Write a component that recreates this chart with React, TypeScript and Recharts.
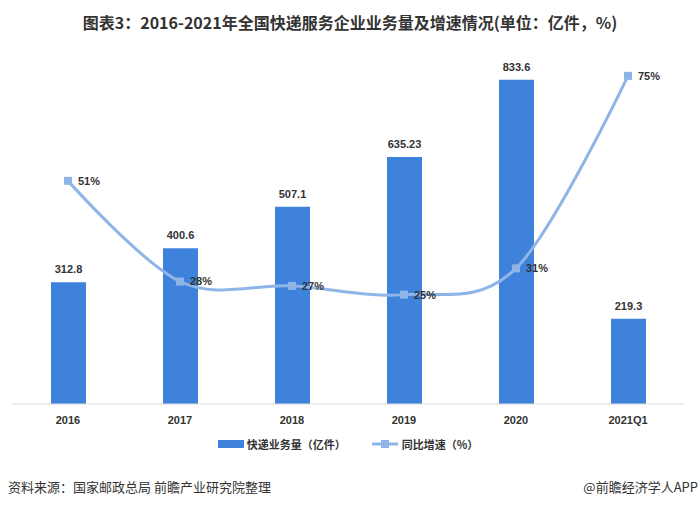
import React from "react";
import { ComposedChart, Bar, Line, XAxis, YAxis, LabelList, Legend } from "recharts";

const categories = ["2016", "2017", "2018", "2019", "2020", "2021Q1"];
const volume = [312.8, 400.6, 507.1, 635.23, 833.6, 219.3];
const growth = [51, 28, 27, 25, 31, 75];

const data = categories.map((c, i) => ({ name: c, volume: volume[i], growth: growth[i] }));

const BAR_COLOR = "#3f82dc";
const LINE_COLOR = "#8fb5e8";
const FONT = "'Liberation Sans', 'Noto Sans CJK SC', sans-serif";
const CJK = "'Noto Sans CJK SC', 'Liberation Sans', sans-serif";

// Catmull-Rom style smoothing (like a spreadsheet smoothed line)
function smoothCurve(context: any) {
  const k = 1 / 6;
  let x0 = NaN, x1 = NaN, x2 = NaN, y0 = NaN, y1 = NaN, y2 = NaN;
  let pt = 0;
  let line: number = NaN;
  const seg = (x: number, y: number) => {
    context.bezierCurveTo(
      x1 + k * (x2 - x0),
      y1 + k * (y2 - y0),
      x2 + k * (x1 - x),
      y2 + k * (y1 - y),
      x2,
      y2
    );
  };
  return {
    areaStart() { line = 0; },
    areaEnd() { line = NaN; },
    lineStart() { x0 = x1 = x2 = y0 = y1 = y2 = NaN; pt = 0; },
    lineEnd() {
      if (pt === 2) context.lineTo(x2, y2);
      else if (pt === 3) seg(x1, y1);
      if (line || (line !== 0 && pt === 1)) context.closePath();
      line = 1 - line;
    },
    point(x: number, y: number) {
      x = +x; y = +y;
      switch (pt) {
        case 0: pt = 1; line ? context.lineTo(x, y) : context.moveTo(x, y); break;
        case 1: pt = 2; x1 = x; y1 = y; break;
        case 2: pt = 3; seg(x, y); break;
        default: seg(x, y); break;
      }
      x0 = x1; x1 = x2; x2 = x;
      y0 = y1; y1 = y2; y2 = y;
    },
  };
}

const SquareDot = (props: any) => {
  const { cx, cy } = props;
  if (cx == null || cy == null) return null;
  return <rect x={cx - 4} y={cy - 4} width={8} height={8} fill={LINE_COLOR} />;
};

const LegendContent = () => (
  <div style={{ display: "flex", justifyContent: "center", alignItems: "center", height: 20, fontFamily: CJK, fontSize: 11, fontWeight: 700, color: "#333" }}>
    <svg width={27} height={10} style={{ marginRight: 2 }}>
      <rect x={0} y={1} width={26} height={8} fill={BAR_COLOR} />
    </svg>
    <span>快递业务量（亿件）</span>
    <svg width={28} height={10} style={{ marginLeft: 26, marginRight: 2 }}>
      <line x1={0} y1={5} x2={26} y2={5} stroke={LINE_COLOR} strokeWidth={3} />
      <rect x={9} y={1} width={8} height={8} fill={LINE_COLOR} />
    </svg>
    <span>同比增速（%）</span>
  </div>
);

export default function App() {
  return (
    <div style={{ position: "absolute", left: 0, top: 0, width: 700, height: 507, background: "#fff", overflow: "hidden" }}>
      <div style={{ position: "absolute", top: 11, left: 0, width: 700, textAlign: "center", fontFamily: CJK, fontWeight: 700, fontSize: 16, color: "#333", lineHeight: "22px" }}>
        图表3：2016-2021年全国快递服务企业业务量及增速情况(单位：亿件，%)
      </div>
      <div style={{ position: "absolute", top: 0, left: 0 }}>
        <ComposedChart width={700} height={460} data={data} margin={{ top: 54, right: 16, left: 12, bottom: 6 }}>
          <XAxis
            dataKey="name"
            axisLine={{ stroke: "#d9d9d9" }}
            tickLine={false}
            height={30}
            tick={{ fill: "#333", fontSize: 11, fontWeight: 700, fontFamily: FONT }}
            tickMargin={6}
          />
          <YAxis yAxisId="left" hide domain={[0, 900]} />
          <YAxis yAxisId="right" orientation="right" hide domain={[0, 80]} />
          <Legend verticalAlign="bottom" height={20} content={<LegendContent />} />
          <Bar yAxisId="left" dataKey="volume" name="快递业务量（亿件）" fill={BAR_COLOR} barSize={35} isAnimationActive={false}>
            <LabelList dataKey="volume" position="top" offset={9} style={{ fill: "#333", fontSize: 11, fontWeight: 700, fontFamily: FONT }} />
          </Bar>
          <Line
            yAxisId="right"
            dataKey="growth"
            name="同比增速（%）"
            type={smoothCurve as any}
            stroke={LINE_COLOR}
            strokeWidth={3}
            dot={<SquareDot />}
            activeDot={false}
            isAnimationActive={false}
          >
            <LabelList dataKey="growth" position="right" offset={10} formatter={(v: any) => `${v}%`} style={{ fill: "#333", fontSize: 11, fontWeight: 700, fontFamily: FONT }} />
          </Line>
        </ComposedChart>
      </div>
      <div style={{ position: "absolute", top: 478, left: 8, fontFamily: CJK, fontSize: 13, color: "#333", lineHeight: "18px" }}>
        资料来源：国家邮政总局 前瞻产业研究院整理
      </div>
      <div style={{ position: "absolute", top: 478, right: 2, fontFamily: CJK, fontSize: 13, color: "#333", lineHeight: "18px" }}>
        @前瞻经济学人APP
      </div>
    </div>
  );
}
